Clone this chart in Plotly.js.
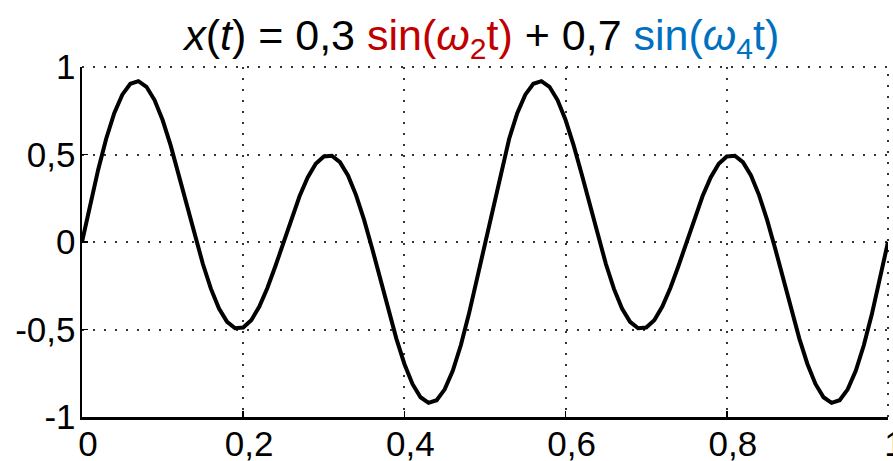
<!DOCTYPE html>
<html>
<head>
<meta charset="utf-8">
<script src="https://cdn.plot.ly/plotly-3.0.1.min.js"></script>
<style>html,body{margin:0;padding:0;background:#fff;}#chart{width:893px;height:461px;}</style>
</head>
<body>
<div id="chart"></div>
<script>
// time samples t = 0 .. 1 (step 0.01)
const tValues = [
 0.00,0.01,0.02,0.03,0.04,0.05,0.06,0.07,0.08,0.09,
 0.10,0.11,0.12,0.13,0.14,0.15,0.16,0.17,0.18,0.19,
 0.20,0.21,0.22,0.23,0.24,0.25,0.26,0.27,0.28,0.29,
 0.30,0.31,0.32,0.33,0.34,0.35,0.36,0.37,0.38,0.39,
 0.40,0.41,0.42,0.43,0.44,0.45,0.46,0.47,0.48,0.49,
 0.50,0.51,0.52,0.53,0.54,0.55,0.56,0.57,0.58,0.59,
 0.60,0.61,0.62,0.63,0.64,0.65,0.66,0.67,0.68,0.69,
 0.70,0.71,0.72,0.73,0.74,0.75,0.76,0.77,0.78,0.79,
 0.80,0.81,0.82,0.83,0.84,0.85,0.86,0.87,0.88,0.89,
 0.90,0.91,0.92,0.93,0.94,0.95,0.96,0.97,0.98,0.99,
 1.00
];
// signal values x(t)
const xValues = [
 0.000, 0.212, 0.412, 0.590, 0.736, 0.842, 0.904, 0.919, 0.887, 0.811,
 0.697, 0.552, 0.387, 0.212, 0.037,-0.126,-0.268,-0.380,-0.456,-0.493,
-0.489,-0.447,-0.369,-0.263,-0.137, 0.000, 0.137, 0.263, 0.369, 0.447,
 0.489, 0.493, 0.456, 0.380, 0.268, 0.126,-0.037,-0.212,-0.387,-0.552,
-0.697,-0.811,-0.887,-0.919,-0.904,-0.842,-0.736,-0.590,-0.412,-0.212,
 0.000, 0.212, 0.412, 0.590, 0.736, 0.842, 0.904, 0.919, 0.887, 0.811,
 0.697, 0.552, 0.387, 0.212, 0.037,-0.126,-0.268,-0.380,-0.456,-0.493,
-0.489,-0.447,-0.369,-0.263,-0.137, 0.000, 0.137, 0.263, 0.369, 0.447,
 0.489, 0.493, 0.456, 0.380, 0.268, 0.126,-0.037,-0.212,-0.387,-0.552,
-0.697,-0.811,-0.887,-0.919,-0.904,-0.842,-0.736,-0.590,-0.412,-0.212,
 0.000
];
const xTickVals = [0, 0.2, 0.4, 0.6, 0.8, 1];
const xTickText = ['0', '0,2', '0,4', '0,6', '0,8', '1'];
const yTickVals = [-1, -0.5, 0, 0.5, 1];
const yTickText = ['-1', '-0,5', '0', '0,5', '1'];

const titleText = "<i>x</i>(<i>t</i>) = 0,3 <span style='color:#c00000'>sin(<i>ω</i><sub>2</sub>t)</span> + 0,7 <span style='color:#0070c0'>sin(<i>ω</i><sub>4</sub>t)</span>";

const font = 'Liberation Sans, Arial, sans-serif';
const gridDash = '2px,9px';

const trace = {
  x: tValues, y: xValues, type: 'scatter', mode: 'lines',
  line: {color: '#000', width: 4}, hoverinfo: 'skip'
};

const layout = {
  width: 893, height: 461,
  margin: {l: 82, r: 5, t: 67, b: 44},
  paper_bgcolor: '#fff', plot_bgcolor: '#fff',
  showlegend: false,
  title: {
    text: titleText,
    font: {family: font, size: 43, color: '#000'},
    x: 0.496, xanchor: 'center', xref: 'paper',
    y: 0.925, yanchor: 'middle', yref: 'container'
  },
  xaxis: {
    range: [0, 1], tickvals: xTickVals, ticktext: xTickText,
    ticks: 'inside', ticklen: 6, tickwidth: 1.5, tickcolor: '#000',
    showline: true, linecolor: '#000', linewidth: 2.5,
    showgrid: true, gridcolor: '#333', gridwidth: 2, griddash: gridDash,
    zeroline: false, fixedrange: true,
    ticklabeloverflow: 'allow', ticklabelshift: 6, ticklabelstandoff: -6,
    tickfont: {family: font, size: 35, color: '#000'}
  },
  yaxis: {
    range: [-1, 1], tickvals: yTickVals, ticktext: yTickText,
    ticks: 'inside', ticklen: 6, tickwidth: 1.5, tickcolor: '#000',
    showline: true, linecolor: '#000', linewidth: 2.5,
    showgrid: true, gridcolor: '#333', gridwidth: 2, griddash: gridDash,
    zeroline: false, fixedrange: true,
    ticklabeloverflow: 'allow', ticklabelstandoff: -3,
    tickfont: {family: font, size: 35, color: '#000'}
  },
  shapes: [
    {type: 'line', xref: 'paper', yref: 'paper', x0: 0, x1: 1, y0: 1, y1: 1,
     line: {color: '#333', width: 2, dash: gridDash}, layer: 'below'},
    {type: 'line', xref: 'paper', yref: 'paper', x0: 1, x1: 1, y0: 0, y1: 1,
     line: {color: '#333', width: 2, dash: gridDash}, layer: 'below'}
  ]
};

Plotly.newPlot('chart', [trace], layout, {displayModeBar: false, staticPlot: true});
</script>
</body>
</html>
